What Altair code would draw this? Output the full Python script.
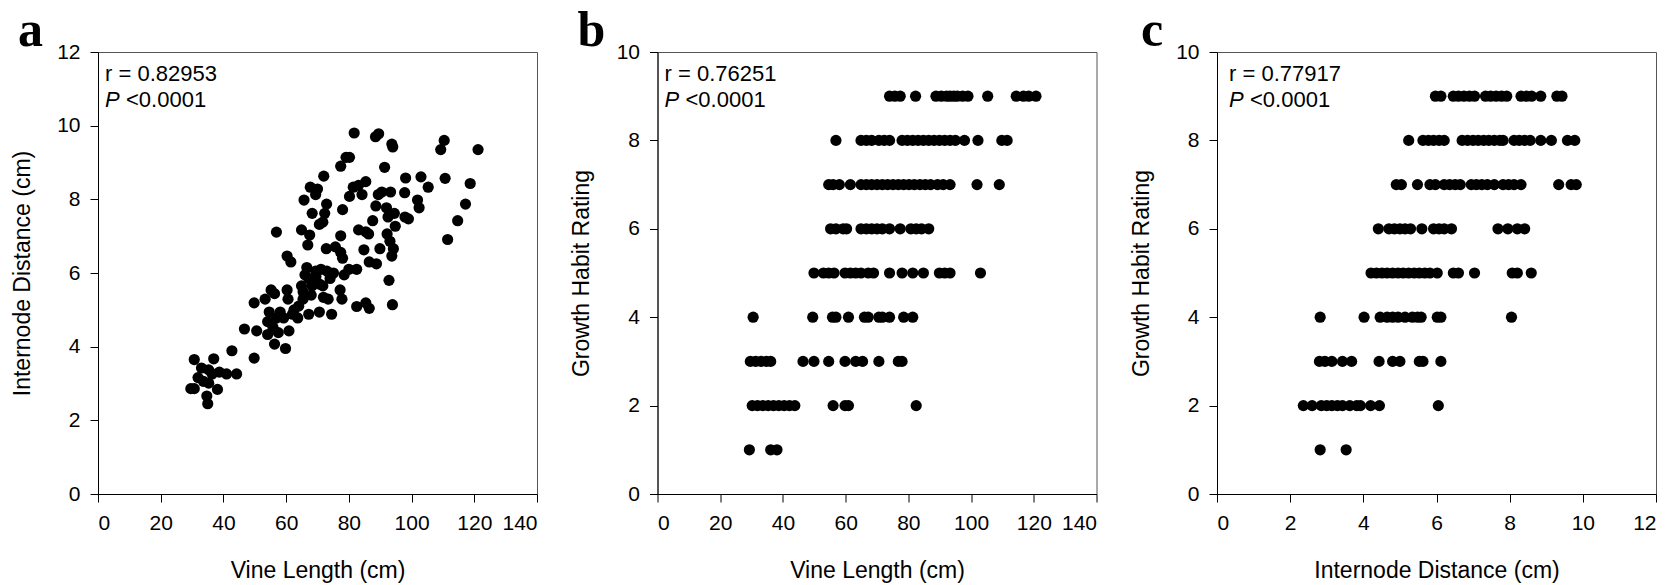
import altair as alt
import pandas as pd

# ---- Panel a: vine length vs internode distance ----
vine_a = [81.7, 88.5, 89.5, 93.7, 94.0, 110.4, 109.3, 121.2, 79.1, 80.2, 77.4, 91.4, 72.0, 98.1, 103.0,
          110.7, 105.3, 118.7, 67.7, 70.0, 69.4, 85.4, 83.1, 81.4, 80.2, 84.2, 89.4, 90.5, 93.3, 97.8,
          101.9, 102.4, 65.7, 72.9, 72.3, 68.3, 78.0, 88.6, 92.0, 87.6, 92.5, 94.5, 97.9, 99.0, 117.2,
          114.7, 94.8, 70.6, 71.7, 83.1, 85.4, 86.3, 64.9, 67.5, 56.9, 77.4, 92.2, 93.1, 111.5, 66.9,
          72.8, 75.7, 77.4, 78.0, 84.8, 89.9, 94.2, 93.7, 60.3, 61.5, 66.6, 69.4, 71.1, 82.5, 86.5,
          88.8, 75.1, 78.5, 74.0, 66.0, 67.2, 92.8, 55.2, 56.3, 60.3, 64.9, 65.4, 68.3, 70.6, 71.7,
          77.2, 53.3, 49.8, 60.6, 65.4, 71.9, 73.4, 77.8, 82.5, 85.4, 86.5, 93.9, 54.6, 58.1, 62.0,
          67.2, 70.6, 74.5, 56.9, 59.2, 63.7, 54.1, 55.8, 50.6, 46.7, 54.1, 57.5, 60.9, 56.3, 59.8,
          42.7, 49.8, 30.7, 36.9, 33.0, 35.3, 36.4, 38.7, 41.0, 44.2, 31.9, 33.6, 35.3, 29.6, 30.7,
          38.1, 34.7, 35.0, 62.5, 64.0, 68.0, 69.5, 73.0, 80.0]
internode_a = [9.80, 9.70, 9.78, 9.50, 9.42, 9.60, 9.35, 9.35, 9.14, 9.14, 8.90, 8.87, 8.63, 8.58, 8.61,
               8.57, 8.33, 8.43, 8.33, 8.28, 8.13, 8.48, 8.38, 8.33, 8.08, 8.13, 8.13, 8.20, 8.20, 8.18,
               7.98, 7.77, 7.98, 7.87, 7.62, 7.62, 7.72, 7.82, 7.77, 7.42, 7.52, 7.62, 7.52, 7.47, 7.87,
               7.42, 7.27, 7.32, 7.38, 7.17, 7.12, 7.06, 7.17, 7.03, 7.11, 7.01, 7.06, 6.86, 6.91, 6.76,
               6.66, 6.71, 6.56, 6.40, 6.63, 6.66, 6.66, 6.46, 6.46, 6.30, 6.15, 6.05, 6.10, 6.10, 6.30,
               6.25, 6.00, 5.95, 5.85, 5.95, 5.85, 5.80, 5.54, 5.44, 5.54, 5.65, 5.49, 5.65, 5.70, 5.65,
               5.54, 5.29, 5.19, 5.29, 5.29, 5.34, 5.29, 5.29, 5.09, 5.19, 5.04, 5.14, 4.94, 4.94, 4.88,
               4.88, 4.94, 4.88, 4.78, 4.78, 4.78, 4.68, 4.53, 4.43, 4.48, 4.33, 4.38, 4.43, 4.07, 3.95,
               3.89, 3.69, 3.65, 3.67, 3.42, 3.37, 3.26, 3.31, 3.26, 3.26, 3.16, 3.06, 3.01, 2.86, 2.86,
               2.84, 2.66, 2.45, 5.00, 5.10, 5.40, 5.90, 6.05, 6.10]

# ---- Panel b: vine length (cm) of plants at each growth habit rating ----
vine_b_9 = [74.0, 75.7, 77.4, 82.3, 88.8, 90.5, 92.2, 93.3, 94.5, 95.6, 97.3, 99.0, 105.3, 114.4, 116.7, 118.4, 120.7]
vine_b_8 = [56.9, 64.9, 66.6, 68.3, 70.6, 72.3, 74.0, 78.0, 79.7, 81.4, 83.1, 84.8, 86.5, 88.2, 89.9, 91.6,
            93.3, 95.0, 97.9, 102.2, 109.8, 111.5]
vine_b_7 = [54.6, 56.0, 58.0, 61.5, 64.9, 66.6, 68.3, 70.0, 71.7, 73.4, 75.1, 76.8, 78.5, 80.2, 81.9, 83.7,
            85.4, 87.1, 89.3, 91.1, 93.3, 101.9, 109.0]
vine_b_6 = [55.2, 56.9, 59.2, 60.3, 64.9, 66.6, 68.3, 70.0, 71.7, 74.0, 77.4, 80.8, 82.5, 84.2, 86.5]
vine_b_5 = [49.9, 52.9, 54.6, 56.3, 59.8, 61.5, 63.2, 64.9, 67.2, 68.9, 74.0, 78.0, 81.4, 84.8, 89.9, 91.6, 93.3, 103.0]
vine_b_4 = [30.5, 49.5, 55.8, 56.9, 60.9, 66.0, 67.2, 70.6, 71.7, 74.0, 78.5, 81.4]
vine_b_3 = [29.6, 31.3, 33.0, 34.7, 36.1, 46.4, 49.9, 54.6, 59.8, 63.2, 65.4, 70.6, 76.8, 78.0]
vine_b_2 = [30.2, 31.9, 33.6, 35.3, 37.0, 38.7, 40.4, 42.1, 43.8, 56.0, 59.8, 60.9, 82.5]
vine_b_1 = [29.3, 36.1, 38.1]

# ---- Panel c: internode distance (cm) of plants at each growth habit rating ----
inter_c_9 = [5.97, 6.12, 6.46, 6.60, 6.75, 6.90, 7.04, 7.34, 7.48, 7.63, 7.78, 7.92, 8.31, 8.46, 8.60, 8.85, 9.29, 9.43]
inter_c_8 = [5.24, 5.63, 5.78, 5.92, 6.07, 6.21, 6.70, 6.85, 7.00, 7.14, 7.29, 7.43, 7.58, 7.73, 7.82, 8.12,
             8.26, 8.41, 8.56, 8.85, 9.14, 9.58, 9.78]
inter_c_7 = [4.90, 5.04, 5.48, 5.82, 5.97, 6.21, 6.36, 6.51, 6.65, 6.95, 7.09, 7.24, 7.39, 7.58, 7.82, 7.97,
             8.12, 8.31, 9.34, 9.68, 9.82]
inter_c_6 = [4.41, 4.70, 4.85, 5.00, 5.14, 5.29, 5.60, 5.92, 6.07, 6.21, 6.41, 7.68, 7.95, 8.21, 8.41]
inter_c_5 = [4.21, 4.36, 4.51, 4.65, 4.80, 4.95, 5.09, 5.24, 5.39, 5.53, 5.68, 5.82, 6.02, 6.46, 6.60, 7.04,
             8.07, 8.21, 8.59]
inter_c_4 = [2.82, 4.02, 4.46, 4.65, 4.80, 4.95, 5.14, 5.34, 5.48, 5.58, 6.02, 6.12, 8.05]
inter_c_3 = [2.80, 2.95, 3.14, 3.43, 3.68, 4.43, 4.80, 5.00, 5.53, 5.63, 6.12]
inter_c_2 = [2.36, 2.60, 2.85, 3.00, 3.14, 3.29, 3.43, 3.63, 3.82, 3.92, 4.20, 4.44, 6.05]
inter_c_1 = [2.82, 3.53]

x_ticks_vine = [0, 20, 40, 60, 80, 100, 120, 140]
y_ticks_a = [0, 2, 4, 6, 8, 10, 12]
ticks_10 = [0, 2, 4, 6, 8, 10]
x_ticks_c = [0, 2, 4, 6, 8, 10, 12]

r_values = ["r = 0.82953", "r = 0.76251", "r = 0.77917"]
p_text = "<0.0001"
letters = ["a", "b", "c"]

W, H = 439, 442
FONT = "Liberation Sans"


def rows_df(rows, col):
    xs, ys = [], []
    for rating, vals in rows:
        xs += vals
        ys += [rating] * len(vals)
    return pd.DataFrame({col: xs, "rating": ys})


df_a = pd.DataFrame({"vine": vine_a, "internode": internode_a})
df_b = rows_df([(9, vine_b_9), (8, vine_b_8), (7, vine_b_7), (6, vine_b_6), (5, vine_b_5),
                (4, vine_b_4), (3, vine_b_3), (2, vine_b_2), (1, vine_b_1)], "vine")
df_c = rows_df([(9, inter_c_9), (8, inter_c_8), (7, inter_c_7), (6, inter_c_6), (5, inter_c_5),
                (4, inter_c_4), (3, inter_c_3), (2, inter_c_2), (1, inter_c_1)], "internode")

one = pd.DataFrame({"k": [0]})


def panel(df, xf, yf, xdom, xvals, ydom, yvals, xtitle, ytitle, letter, rtxt, ldx, letter_x):
    pts = alt.Chart(df).mark_circle(size=125, color="black", opacity=1).encode(
        x=alt.X(f"{xf}:Q", scale=alt.Scale(domain=xdom, nice=False, zero=False),
                axis=alt.Axis(values=xvals, title=xtitle, titleX=W / 2, titleY=83,
                              titleBaseline="alphabetic")),
        y=alt.Y(f"{yf}:Q", scale=alt.Scale(domain=ydom, nice=False, zero=False),
                axis=alt.Axis(values=yvals, title=ytitle, titleX=-69, titleY=H / 2,
                              titleAngle=270, titleBaseline="alphabetic")),
    )
    t_r = alt.Chart(one).mark_text(text=rtxt, align="left", baseline="alphabetic", font=FONT,
                                   fontSize=22, color="black").encode(
        x=alt.value(ldx), y=alt.value(29))
    t_p = alt.Chart(one).mark_text(text="P", align="left", baseline="alphabetic", font=FONT,
                                   fontSize=22, fontStyle="italic", color="black").encode(
        x=alt.value(ldx), y=alt.value(55))
    t_v = alt.Chart(one).mark_text(text=p_text, align="left", baseline="alphabetic", font=FONT,
                                   fontSize=22, color="black").encode(
        x=alt.value(ldx + 21), y=alt.value(55))
    t_l = alt.Chart(one).mark_text(text=letter, align="left", baseline="alphabetic",
                                   font="Liberation Serif", fontWeight="bold", fontSize=50,
                                   color="black").encode(
        x=alt.value(letter_x), y=alt.value(-6))
    return alt.layer(pts, t_r, t_p, t_v, t_l).properties(width=W, height=H)


pa = panel(df_a, "vine", "internode", [0, 140], x_ticks_vine, [0, 12], y_ticks_a,
           "Vine Length (cm)", "Internode Distance (cm)", letters[0], r_values[0], 7, -80)
pb = panel(df_b, "vine", "rating", [0, 140], x_ticks_vine, [0, 10], ticks_10,
           "Vine Length (cm)", "Growth Habit Rating", letters[1], r_values[1], 7, -80)
pc = panel(df_c, "internode", "rating", [0, 12], x_ticks_c, [0, 10], ticks_10,
           "Internode Distance (cm)", "Growth Habit Rating", letters[2], r_values[2], 12, -76)

chart = alt.hconcat(pa, pb, pc, spacing=120.5, bounds="flush").properties(
    padding={"left": 10, "top": 5, "right": 5, "bottom": 5},
    background="white",
).configure_view(
    stroke="#555555", strokeWidth=1
).configure_axis(
    grid=False,
    domainColor="black", tickColor="black", labelColor="black", titleColor="black",
    labelFont=FONT, titleFont=FONT, labelFontSize=21, titleFontSize=23,
    titleFontWeight="normal", tickSize=8, labelPadding=10,
)

chart.save("out.html", embed_options={"renderer": "svg", "actions": False})
